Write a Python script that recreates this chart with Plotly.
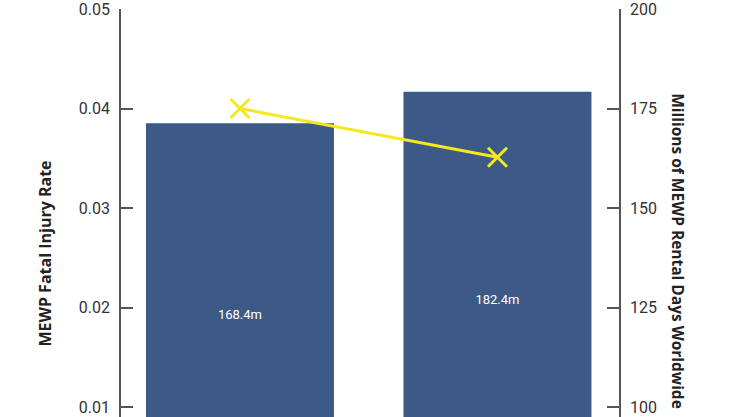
import plotly.graph_objects as go

# data
periods = ['Period 1', 'Period 2']
rental_days_top = [171.3, 179.2]      # bar tops
rental_days_base = 75
rental_labels = ['168.4m', '182.4m']
injury_rate = [0.0400, 0.0351]

bar_color = '#3d5a86'
line_color = '#f5e81c'
axis_color = '#555555'
font = 'Roboto'

fig = go.Figure()

# bars on the right axis (drawn underneath)
fig.add_trace(go.Bar(
    x=periods,
    y=[v - rental_days_base for v in rental_days_top],
    base=rental_days_base,
    yaxis='y',
    width=0.73,
    marker=dict(color=bar_color, line=dict(width=0)),
    text=rental_labels,
    textposition='inside',
    insidetextanchor='middle',
    textfont=dict(color='white', size=13, family=font),
    hoverinfo='skip',
))

# injury rate line on the left axis (overlaying, so it sits on top)
fig.add_trace(go.Scatter(
    x=periods,
    y=injury_rate,
    yaxis='y2',
    mode='lines+markers',
    line=dict(color=line_color, width=3),
    marker=dict(symbol='x-thin', size=19, line=dict(color=line_color, width=3)),
))

axis_common = dict(showgrid=False, zeroline=False,
                   showline=True, linecolor=axis_color, linewidth=1.5,
                   ticks='inside', ticklen=12, tickcolor=axis_color, tickwidth=1.5,
                   ticklabelstandoff=6, ticklabeloverflow='allow')

fig.update_layout(
    width=730, height=417,
    margin=dict(l=121, r=111, t=7, b=0),
    plot_bgcolor='white', paper_bgcolor='white',
    showlegend=False,
    font=dict(family=font, color='#333333', size=16),
    xaxis=dict(range=[-0.462, 1.472], showticklabels=False, showline=False,
               showgrid=False, zeroline=False, ticks=''),
    yaxis=dict(range=[97.5, 200], tickvals=[100, 125, 150, 175, 200],
               side='right', **axis_common),
    yaxis2=dict(range=[0.009, 0.05], tickvals=[0.01, 0.02, 0.03, 0.04, 0.05],
                tickformat='.2f', overlaying='y', side='left', **axis_common),
)

# axis titles (the right one reads top to bottom)
fig.add_annotation(text='<b>MEWP Fatal Injury Rate</b>', textangle=-90,
                   xref='paper', yref='paper', x=-0.153, y=0.40,
                   xanchor='center', yanchor='middle',
                   showarrow=False, font=dict(size=16, family='Open Sans', color='#222222'))
fig.add_annotation(text='<b>Millions of MEWP Rental Days Worldwide</b>', textangle=90,
                   xref='paper', yref='paper', x=1.118, y=0.407,
                   xanchor='center', yanchor='middle',
                   showarrow=False, font=dict(size=15.5, family='Open Sans', color='#222222'))

# page body margin off so the chart fills the window
fig.write_html('out.html', config={'displayModeBar': False},
               post_script="document.body.style.margin='0';")
